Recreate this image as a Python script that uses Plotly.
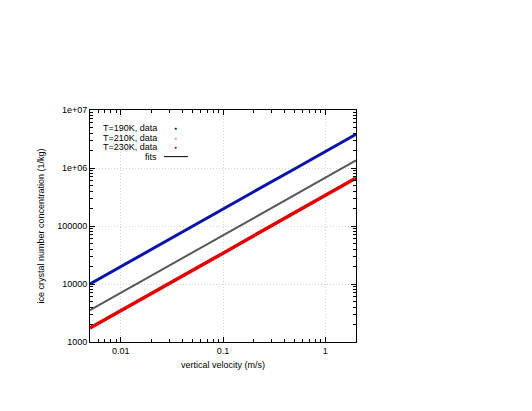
import plotly.graph_objects as go

# vertical velocity (m/s)
velocity = [0.005, 0.01, 0.02, 0.05, 0.1, 0.2, 0.5, 1.0, 2.0]

# ice crystal number concentration (1/kg)
conc_190K = [1.0e4, 2.0e4, 3.9e4, 9.7e4, 1.95e5, 3.9e5, 9.6e5, 1.9e6, 3.8e6]
conc_210K = [3.55e3, 7.0e3, 1.4e4, 3.45e4, 6.9e4, 1.37e5, 3.4e5, 6.8e5, 1.35e6]
conc_230K = [1.75e3, 3.45e3, 6.9e3, 1.7e4, 3.4e4, 6.8e4, 1.68e5, 3.35e5, 6.7e5]

x_tickvals = [0.01, 0.1, 1]
x_ticktext = ['0.01', '0.1', '1']
y_tickvals = [1e3, 1e4, 1e5, 1e6, 1e7]
y_ticktext = ['1000', '10000', '100000', '1e+06', '1e+07']

legend_labels = ['T=190K, data', 'T=210K, data', 'T=230K, data', 'fits']
colors = ['#0a14a8', '#b0b0b0', '#e00000', 'black']

font = dict(family='Liberation Sans, Arial, sans-serif', size=9, color='black')

fig = go.Figure()

# fits (thin black lines) underneath
for conc in [conc_190K, conc_210K, conc_230K]:
    fig.add_trace(go.Scatter(x=velocity, y=conc, mode='lines',
                             line=dict(color='black', width=1), hoverinfo='none'))

# data as dense thick lines
fig.add_trace(go.Scatter(x=velocity, y=conc_190K, mode='lines',
                         line=dict(color=colors[0], width=3)))
fig.add_trace(go.Scatter(x=velocity, y=conc_210K, mode='lines',
                         line=dict(color='#5a5a5a', width=2)))
fig.add_trace(go.Scatter(x=velocity, y=conc_230K, mode='lines',
                         line=dict(color=colors[2], width=3.5)))


def minor_vals(lo, hi):
    vals = []
    d = lo
    while d < hi:
        vals += [k * d for k in range(2, 10)]
        d *= 10
    return vals


axis_common = dict(type='log', showline=True, linecolor='black', linewidth=1,
                   mirror='allticks', ticks='inside', ticklen=5, tickcolor='black',
                   showgrid=True, gridcolor='#d4d4d4', griddash='1px,2px', gridwidth=1,
                   zeroline=False, tickfont=font)

fig.update_xaxes(range=[-2.30103, 0.30103], tickvals=x_tickvals, ticktext=x_ticktext,
                 title=dict(text='vertical velocity (m/s)', font=font, standoff=6),
                 minor=dict(tickvals=minor_vals(0.001, 2), ticks='inside', ticklen=3,
                            tickcolor='black', showgrid=False),
                 **axis_common)
fig.update_yaxes(range=[3, 7], tickvals=y_tickvals, ticktext=y_ticktext,
                 title=dict(text='ice crystal number concentration (1/kg)', font=font, standoff=11),
                 minor=dict(tickvals=minor_vals(1000, 1e7), ticks='inside', ticklen=3,
                            tickcolor='black', showgrid=False),
                 **axis_common)

# legend drawn gnuplot-style: right-aligned text, key to the right
row_y = [0.922, 0.880, 0.839, 0.799]
for label, color, ry in zip(legend_labels, colors, row_y):
    fig.add_annotation(x=0.259, y=ry, xref='paper', yref='paper', text=label,
                       showarrow=False, xanchor='right', yanchor='middle', font=font)
    if label == 'fits':
        fig.add_shape(type='line', xref='paper', yref='paper', x0=0.278, x1=0.368,
                      y0=ry, y1=ry, line=dict(color='black', width=1))
    else:
        fig.add_annotation(x=0.322, y=ry, xref='paper', yref='paper', text='●',
                           showarrow=False, xanchor='center', yanchor='middle',
                           font=dict(family=font['family'], size=5, color=color))

fig.update_layout(width=532, height=411, showlegend=False,
                  margin=dict(l=82, r=184, t=102, b=77),
                  paper_bgcolor='white', plot_bgcolor='white', font=font)

fig.write_html("out.html")
